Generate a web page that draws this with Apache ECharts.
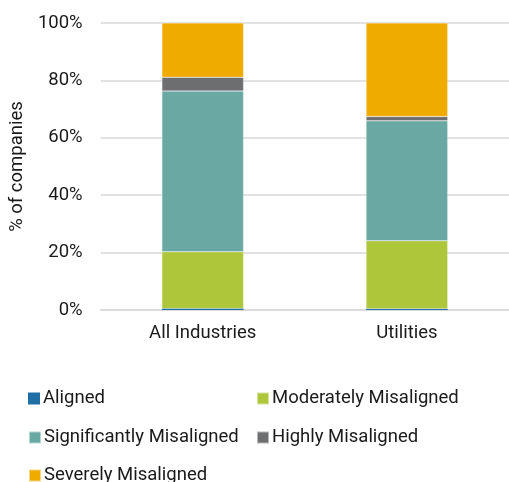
<!DOCTYPE html>
<html>
<head>
<meta charset="utf-8">
<script src="https://cdn.jsdelivr.net/npm/echarts@6/dist/echarts.min.js"></script>
<style>
  html, body { margin: 0; padding: 0; background: #fff; }
  #chart { width: 509px; height: 482px; }
</style>
</head>
<body>
<div id="chart"></div>
<script>
// Share of companies by alignment category (percent of companies)
const categories = ['All Industries', 'Utilities'];
const seriesNames = ['Aligned', 'Moderately Misaligned', 'Significantly Misaligned', 'Highly Misaligned', 'Severely Misaligned'];
const aligned = [0.5, 0.4];
const moderately = [19.8, 23.7];
const significantly = [56.0, 41.8];
const highly = [4.8, 1.5];
const severely = [18.9, 32.6];
const yTicks = [0, 20, 40, 60, 80, 100];

const colors = ['#1f6ea6', '#adc63a', '#6aa9a3', '#6d6e70', '#f0ab00'];
const values = [aligned, moderately, significantly, highly, severely];

const font = 'Roboto, "Noto Sans", sans-serif';
const textColor = '#1a1a1a';
const fontSize = 18.5;

// legend placement: two columns, three rows
const legendPos = [
  { left: 28, top: 389 },
  { left: 256, top: 389 },
  { left: 28, top: 428 },
  { left: 256, top: 428 },
  { left: 28, top: 466 }
];

const chart = echarts.init(document.getElementById('chart'), null, { renderer: 'canvas' });

chart.setOption({
  animation: false,
  color: colors,
  grid: { left: 100, top: 23, width: 412, bottom: 172, containLabel: false },
  xAxis: {
    type: 'category',
    data: categories,
    axisLine: { show: true, lineStyle: { color: '#d9d9d9', width: 1.5 } },
    axisTick: { show: false },
    axisLabel: { color: textColor, fontFamily: font, fontSize: fontSize, margin: 14 }
  },
  yAxis: {
    type: 'value',
    min: yTicks[0],
    max: yTicks[yTicks.length - 1],
    interval: 20,
    name: '% of companies',
    nameLocation: 'middle',
    nameGap: 72,
    nameRotate: 90,
    nameTextStyle: { color: textColor, fontFamily: font, fontSize: fontSize },
    axisLine: { show: false },
    axisTick: { show: false },
    axisLabel: { color: textColor, fontFamily: font, fontSize: fontSize, margin: 18, formatter: v => v + '%' },
    splitLine: { lineStyle: { color: '#d9d9d9', width: 1.5 } }
  },
  legend: seriesNames.map((name, i) => ({
    data: [name],
    left: legendPos[i].left,
    top: legendPos[i].top,
    icon: 'rect',
    itemWidth: 12,
    itemHeight: 12,
    itemGap: 0,
    padding: 0,
    textStyle: { color: textColor, fontFamily: font, fontSize: fontSize, padding: [0, 0, 0, -2] }
  })),
  series: seriesNames.map((name, i) => ({
    name: name,
    type: 'bar',
    stack: 'total',
    barWidth: '40%',
    data: values[i],
    itemStyle: i === 0
      ? { color: colors[i] }
      : { color: colors[i], borderColor: 'rgba(255,255,255,0.5)', borderWidth: 0.5 }
  }))
});
</script>
</body>
</html>
